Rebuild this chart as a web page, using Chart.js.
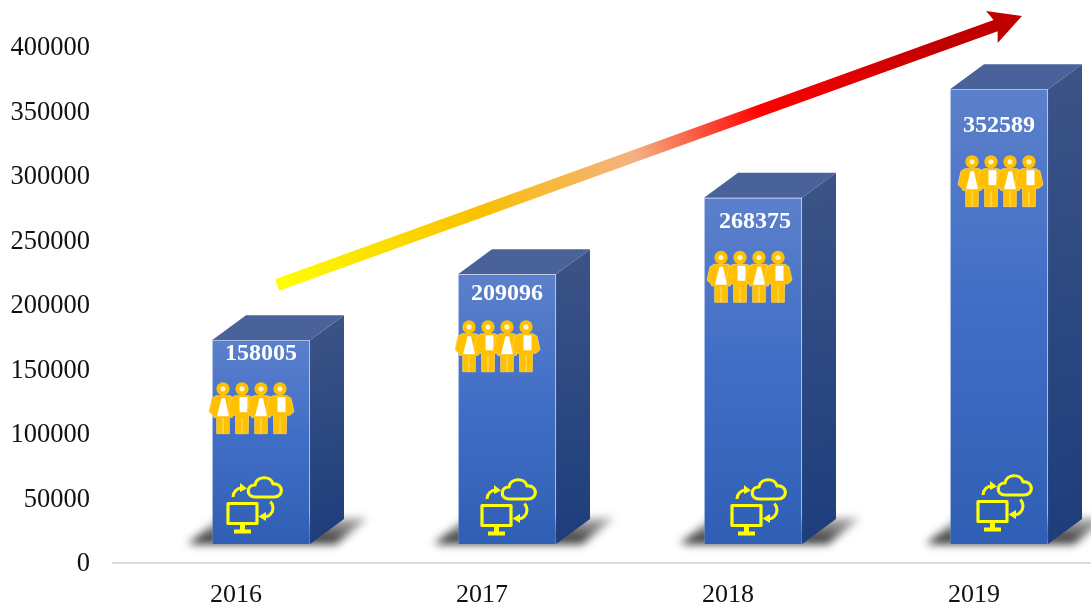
<!DOCTYPE html>
<html>
<head>
<meta charset="utf-8">
<style>html,body{margin:0;padding:0;background:#fff;overflow:hidden;width:1091px;height:605px}canvas{display:block}</style>
<script src="https://cdn.jsdelivr.net/npm/chart.js@4"></script>
</head>
<body>
<canvas id="c" width="1097" height="605" style="width:1097px;height:605px"></canvas>
<script>
const categories = ['2016', '2017', '2018', '2019'];
const values = [158005, 209096, 268375, 352589];
const arrowCategoryPos = [0.167, 3.195];
const arrowValuePos = [215500, 424000];

// Layout of the decoration, in pixels relative to each bar's front face
const SHIFT_X = 25, SHIFT_Y = -19, DEPTH_X = 34, DEPTH_Y = 25;
const labelDrop = [14, 20, 24, 37];
const labelShift = [0, 0, 2, 0];
const peopleDrop = [42, 46, 53, 66];
const peopleLeft = [12, 12, 18, 23];
const iconLeft = [14, 22, 26, 26];
const iconTopFromBase = [68, 66, 66, 70];

function facePath(ctx, pts) {
  ctx.beginPath();
  pts.forEach((p, i) => i ? ctx.lineTo(p[0], p[1]) : ctx.moveTo(p[0], p[1]));
  ctx.closePath();
}

function drawPerson(ctx, cx, top, female) {
  const gold = '#ffc000';
  ctx.save();
  ctx.translate(cx, top);
  ctx.fillStyle = gold;
  ctx.beginPath(); ctx.arc(0, 6.7, 6.7, 0, Math.PI * 2); ctx.fill();
  ctx.fillStyle = '#fff3cc';
  ctx.beginPath(); ctx.arc(0, 6.7, 2.6, 0, Math.PI * 2); ctx.fill();
  ctx.fillStyle = gold;
  ctx.strokeStyle = '#ffd45c'; ctx.lineWidth = 0.8;
  // torso, arms and legs as one silhouette
  ctx.beginPath();
  ctx.moveTo(-7, 13.5); ctx.lineTo(7, 13.5);
  ctx.lineTo(11, 16); ctx.lineTo(14, 29.5); ctx.lineTo(10, 33);
  if (female) { ctx.lineTo(9.5, 35); ctx.lineTo(6.3, 35.5); } else { ctx.lineTo(6.5, 33); }
  ctx.lineTo(6.3, 51.5); ctx.lineTo(-6.3, 51.5);
  if (female) { ctx.lineTo(-6.3, 35.5); ctx.lineTo(-9.5, 35); } else { ctx.lineTo(-6.5, 33); }
  ctx.lineTo(-10, 33); ctx.lineTo(-14, 29.5); ctx.lineTo(-11, 16);
  ctx.closePath(); ctx.fill(); ctx.stroke();
  // white clothing
  ctx.fillStyle = '#ffffff';
  ctx.beginPath();
  if (female) {
    ctx.moveTo(-1.5, 16); ctx.lineTo(2, 16); ctx.lineTo(6, 34); ctx.lineTo(-6, 34);
  } else {
    ctx.moveTo(-2.5, 15); ctx.lineTo(5.5, 15); ctx.lineTo(5.5, 30); ctx.lineTo(-2.5, 30);
  }
  ctx.closePath(); ctx.fill();
  // leg separation
  ctx.strokeStyle = '#ffe08a'; ctx.lineWidth = 1;
  ctx.beginPath(); ctx.moveTo(0, 36); ctx.lineTo(0, 51.5); ctx.stroke();
  ctx.restore();
}

function drawCloudIcon(ctx, x, y) {
  ctx.save();
  ctx.translate(x, y);
  ctx.strokeStyle = '#ffff00'; ctx.fillStyle = '#ffff00';
  ctx.lineWidth = 3.2; ctx.lineJoin = 'round';
  // monitor
  ctx.strokeRect(2, 27.5, 29, 20);
  ctx.fillRect(14, 48, 5, 6);
  ctx.fillRect(8, 53.5, 17, 4);
  // cloud
  ctx.beginPath();
  ctx.moveTo(29, 21);
  ctx.bezierCurveTo(20, 21, 20, 9, 29, 9);
  ctx.bezierCurveTo(30, 0, 45, -1, 47, 8);
  ctx.bezierCurveTo(58, 7, 58, 21, 48, 21);
  ctx.closePath(); ctx.stroke();
  // circular arrows
  ctx.lineWidth = 3;
  ctx.beginPath(); ctx.arc(16, 21, 9, Math.PI, Math.PI * 1.55); ctx.stroke();
  facePath(ctx, [[14, 7], [21, 12.5], [14, 16]]); ctx.fill();
  ctx.beginPath(); ctx.arc(38, 32, 9, -0.25 * Math.PI, 0.45 * Math.PI); ctx.stroke();
  facePath(ctx, [[32.5, 40.5], [40, 36], [40, 45]]); ctx.fill();
  ctx.restore();
}

const bar3d = {
  id: 'bar3d',
  beforeDatasetDraw(chart) {
    const ctx = chart.ctx;
    const meta = chart.getDatasetMeta(0);
    ctx.save();
    meta.data.forEach(el => {
      const left = el.x - el.width / 2 + SHIFT_X, right = left + el.width;
      const top = el.y + SHIFT_Y, base = el.base + SHIFT_Y;
      // floor shadow
      ctx.save();
      ctx.filter = 'blur(4px)';
      const s = ctx.createLinearGradient(0, base - 28, 0, base + 1);
      s.addColorStop(0, 'rgba(70,70,70,0.35)');
      s.addColorStop(1, 'rgba(15,15,15,0.95)');
      ctx.fillStyle = s;
      facePath(ctx, [[left - 24, base], [left + 8, base - 26], [right + 58, base - 26], [right + 26, base]]);
      ctx.fill();
      ctx.restore();
      // side face
      const g = ctx.createLinearGradient(right, top - DEPTH_Y, right + DEPTH_X, base);
      g.addColorStop(0, '#3c5487');
      g.addColorStop(1, '#1d3d7b');
      ctx.fillStyle = g;
      facePath(ctx, [[right, top], [right + DEPTH_X, top - DEPTH_Y], [right + DEPTH_X, base - DEPTH_Y], [right, base]]);
      ctx.fill();
      // top face
      ctx.fillStyle = '#49629a';
      facePath(ctx, [[left, top], [left + DEPTH_X, top - DEPTH_Y], [right + DEPTH_X, top - DEPTH_Y], [right, top]]);
      ctx.fill();
    });
    ctx.restore();
    ctx.save();
    ctx.translate(SHIFT_X, SHIFT_Y);
  },
  afterDatasetDraw(chart) {
    const ctx = chart.ctx;
    ctx.restore();
    const meta = chart.getDatasetMeta(0);
    ctx.save();
    meta.data.forEach((el, i) => {
      const left = el.x - el.width / 2 + SHIFT_X;
      const top = el.y + SHIFT_Y, base = el.base + SHIFT_Y;
      ctx.fillStyle = '#ffffff';
      ctx.font = 'bold 24px "Liberation Serif"';
      ctx.textAlign = 'center'; ctx.textBaseline = 'middle';
      ctx.fillText(String(values[i]), left + el.width / 2 + labelShift[i], top + labelDrop[i]);
      for (let p = 0; p < 4; p++) {
        drawPerson(ctx, left + peopleLeft[i] - 1 + p * 19, top + peopleDrop[i], p % 2 === 0);
      }
      drawCloudIcon(ctx, left + iconLeft[i], base - iconTopFromBase[i]);
    });
    // rising arrow, placed through the scales
    const xs = chart.scales.x, ys = chart.scales.y;
    const x0 = xs.getPixelForValue(arrowCategoryPos[0]), y0 = ys.getPixelForValue(arrowValuePos[0]);
    const x1 = xs.getPixelForValue(arrowCategoryPos[1]), y1 = ys.getPixelForValue(arrowValuePos[1]);
    const ang = Math.atan2(y1 - y0, x1 - x0), len = Math.hypot(x1 - x0, y1 - y0);
    ctx.translate(x0, y0); ctx.rotate(ang);
    const g2 = ctx.createLinearGradient(0, 0, len, 0);
    g2.addColorStop(0, '#ffff00');
    g2.addColorStop(0.27, '#f9c000');
    g2.addColorStop(0.48, '#f4b183');
    g2.addColorStop(0.65, '#ff0000');
    g2.addColorStop(0.9, '#c00000');
    g2.addColorStop(1, '#c00000');
    ctx.fillStyle = g2;
    facePath(ctx, [[0, -6], [len - 28, -6], [len - 32, -17], [len, 0], [len - 32, 17], [len - 28, 6], [0, 6]]);
    ctx.fill();
    ctx.restore();
  }
};

new Chart(document.getElementById('c'), {
  type: 'bar',
  plugins: [bar3d],
  data: {
    labels: categories,
    datasets: [{
      data: values,
      barThickness: 98,
      borderWidth: 1,
      borderColor: 'rgba(170,190,230,0.35)',
      backgroundColor(c) {
        const chart = c.chart, ys = chart.scales.y;
        const fallback = '#3f6fc4';
        if (!c.parsed || !ys) return fallback;
        const top = ys.getPixelForValue(c.parsed.y), base = ys.getPixelForValue(0);
        if (!isFinite(top) || !isFinite(base) || top === base) return fallback;
        const g = chart.ctx.createLinearGradient(0, top, 0, base);
        g.addColorStop(0, '#5c80cb');
        g.addColorStop(0.45, '#426fc6');
        g.addColorStop(1, '#2f5fb4');
        return g;
      }
    }]
  },
  options: {
    responsive: false,
    animation: false,
    layout: { padding: { top: 47, right: 0, bottom: 0, left: 0 } },
    plugins: { legend: { display: false }, tooltip: { enabled: false } },
    scales: {
      x: {
        afterFit(s) { s.height = 42; },
        grid: { display: false, drawTicks: false },
        border: { color: '#d9d9d9', width: 2 },
        ticks: { color: '#111', padding: 17, font: { family: '"Liberation Serif"', size: 26 }, maxRotation: 0 }
      },
      y: {
        min: 0, max: 400000,
        afterFit(s) { s.width = 113; },
        grid: { display: false, drawTicks: false },
        border: { display: false },
        ticks: { stepSize: 50000, color: '#111', padding: 23, labelOffset: 1.5, font: { family: '"Liberation Serif"', size: 26.5 }, callback: v => String(v) }
      }
    }
  }
});
</script>
</body>
</html>
